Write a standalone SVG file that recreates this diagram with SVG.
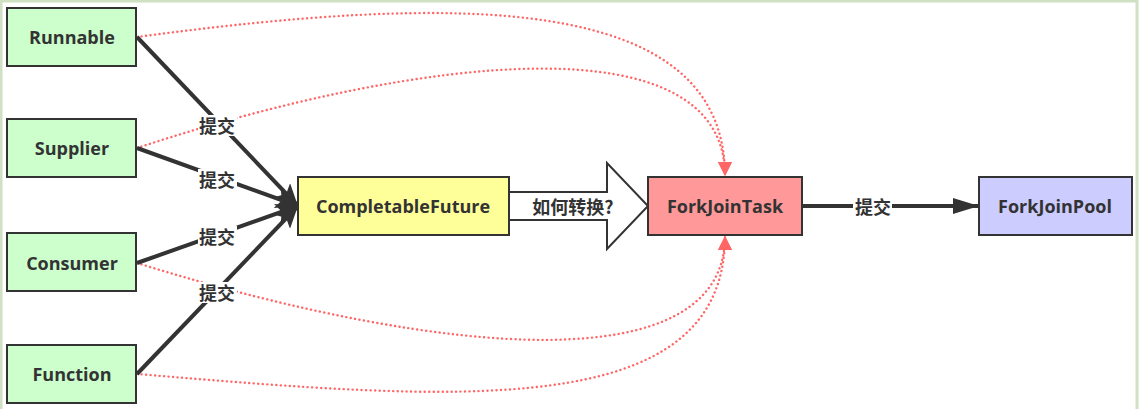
<svg xmlns="http://www.w3.org/2000/svg" width="1139" height="409" viewBox="0 0 1139 409">
<style>
.box{stroke:#333;stroke-width:2}
.t{font-family:"Open Sans","Noto Sans CJK SC",sans-serif;font-weight:bold;font-size:18px;fill:#333;text-anchor:middle;dominant-baseline:central}
.lbl{font-family:"Noto Sans CJK SC","Open Sans",sans-serif;font-weight:bold;font-size:18px;fill:#333;text-anchor:middle;dominant-baseline:central}
.solid{fill:none;stroke:#333;stroke-width:4}
.dot{fill:none;stroke:#ff6666;stroke-width:2.4;stroke-dasharray:0.1 4.4;stroke-linecap:round}
</style>
<defs>
<marker id="ah" markerUnits="userSpaceOnUse" markerWidth="24" markerHeight="20" viewBox="0 0 24 20" refX="22" refY="10" orient="auto">
<path d="M0,0 L22,10 L0,20 L5,10 Z" fill="#333"/>
</marker>
<marker id="ah2" markerUnits="userSpaceOnUse" markerWidth="26" markerHeight="16" viewBox="0 0 26 16" refX="26" refY="8" orient="auto">
<path d="M0,0 L26,8 L0,16 Z" fill="#333"/>
</marker>
<marker id="rh" markerUnits="userSpaceOnUse" markerWidth="14" markerHeight="14" viewBox="0 0 14 14" refX="14" refY="7" orient="auto">
<path d="M0,0 L14,7 L0,14 Z" fill="#ff6666"/>
</marker>
</defs>
<rect x="1" y="1" width="1136" height="410" fill="#fff" stroke="#cfe0c3" stroke-width="3"/>
<g id="connectors">
<path class="dot" d="M137,37 C450,-5 725,-10 725,176" marker-end="url(#rh)"/>
<path class="dot" d="M137,148 C420,55 725,20 725,176" marker-end="url(#rh)"/>
<path class="dot" d="M137,263 C450,360 725,380 725,236" marker-end="url(#rh)"/>
<path class="dot" d="M137,374 C450,400 725,425 725,236" marker-end="url(#rh)"/>
<path class="solid" d="M137,37 L298,206" marker-end="url(#ah)"/>
<path class="solid" d="M137,148 L298,206" marker-end="url(#ah)"/>
<path class="solid" d="M137,263 L298,206" marker-end="url(#ah)"/>
<path class="solid" d="M137,374 L298,206" marker-end="url(#ah)"/>
<path class="solid" d="M802,206 L979,206" marker-end="url(#ah2)"/>
<path d="M509,192 L607,192 L607,163 L648,206 L607,249 L607,220 L509,220 Z" fill="#fff" stroke="#333" stroke-width="2"/>
<g>
<rect x="198" y="115" width="39" height="21" fill="#fff"/><text class="lbl" x="217" y="125">提交</text>
<rect x="198" y="169" width="39" height="21" fill="#fff"/><text class="lbl" x="217" y="179">提交</text>
<rect x="198" y="226" width="39" height="21" fill="#fff"/><text class="lbl" x="217" y="236">提交</text>
<rect x="198" y="282" width="39" height="21" fill="#fff"/><text class="lbl" x="217" y="292">提交</text>
<rect x="853" y="196" width="39" height="21" fill="#fff"/><text class="lbl" x="873" y="206">提交</text>
<text class="lbl" x="573" y="206">如何转换?</text>
</g>
</g>
<g id="runnable"><rect class="box" x="7" y="8" width="129" height="58" fill="#ccffcc"/><text class="t" x="72" y="37">Runnable</text></g>
<g id="supplier"><rect class="box" x="7" y="119" width="129" height="58" fill="#ccffcc"/><text class="t" x="72" y="148">Supplier</text></g>
<g id="consumer"><rect class="box" x="7" y="233" width="129" height="58" fill="#ccffcc"/><text class="t" x="72" y="263">Consumer</text></g>
<g id="function"><rect class="box" x="7" y="345" width="129" height="58" fill="#ccffcc"/><text class="t" x="72" y="374">Function</text></g>
<g id="completablefuture"><rect class="box" x="298" y="177" width="211" height="58" fill="#ffff99"/><text class="t" x="403" y="206">CompletableFuture</text></g>
<g id="forkjointask"><rect class="box" x="648" y="177" width="154" height="58" fill="#ff9999"/><text class="t" x="725" y="206">ForkJoinTask</text></g>
<g id="forkjoinpool"><rect class="box" x="979" y="177" width="153" height="58" fill="#ccccff"/><text class="t" x="1055" y="206">ForkJoinPool</text></g>
</svg>
